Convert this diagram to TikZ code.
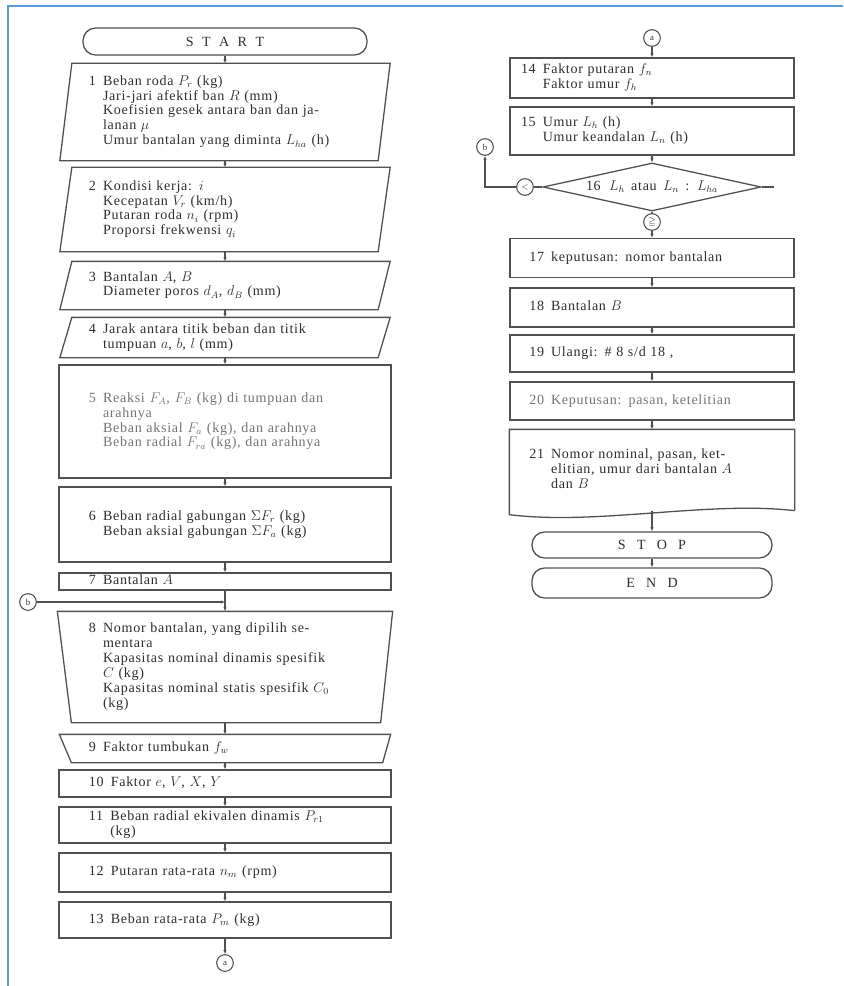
\documentclass[tikz,border=0pt]{standalone}
\usepackage{amsmath,amssymb}
\usepackage{fontspec}
\setmainfont{Liberation Serif}[LetterSpace=5]
\usepackage{xcolor}
\usetikzlibrary{shapes.geometric,arrows.meta}

\definecolor{ink}{RGB}{45,45,45}
\definecolor{rule}{RGB}{80,80,80}
\definecolor{faint}{RGB}{115,115,115}
\definecolor{frameblue}{RGB}{91,155,213}

\begin{document}
\begin{tikzpicture}[x=0.03cm, y=-0.03cm,
    every node/.style={font=\fontsize{12}{12.8}\selectfont\spaceskip.45em\relax, text=ink},
    box/.style={draw=rule, line width=1.1pt, minimum width=9.96cm, text width=8.16cm, align=left, inner sep=0pt},
    ghost/.style={box, draw=none},
    rbox/.style={box, minimum width=8.52cm, text width=7.86cm},
    outline/.style={draw=rule, line width=1.1pt},
    term/.style={draw=rule, line width=1.1pt, rounded corners=0.38cm, minimum height=0.81cm, inner sep=0pt},
    conn/.style={draw=rule, line width=0.9pt, circle, minimum size=0.5cm, inner sep=0pt, font=\fontsize{7.5}{8}\selectfont},
    flow/.style={draw=rule, line width=1.1pt, -{Latex[length=3.5pt,width=3pt]}},
    link/.style={draw=rule, line width=1.1pt}
]
\useasboundingbox (0,0) rectangle (843,986);
\draw[frameblue, line width=1.6pt] (8,986) -- (8,6) -- (843,6);

% left column
\node[term, minimum width=8.52cm] (start) at (225,41.5) {S\hspace{.6em}T\hspace{.6em}A\hspace{.6em}R\hspace{.6em}T};
\node[ghost, minimum width=9.51cm, minimum height=2.88cm] (in1) at (225,112) {\begin{tabular}{@{}l@{\hspace{.5em}}l@{}}
1 & Beban roda $P_r$ (kg)\\
  & Jari-jari afektif ban $R$ (mm)\\
  & Koefisien gesek antara ban dan ja-\\
  & lanan $\mu$\\
  & Umur bantalan yang diminta $L_{ha}$ (h)\end{tabular}};
\node[ghost, minimum width=9.51cm, minimum height=2.49cm] (in2) at (225,209.5) {\begin{tabular}{@{}l@{\hspace{.5em}}l@{}}
2 & Kondisi kerja: $i$\\
  & Kecepatan $V_r$ (km/h)\\
  & Putaran roda $n_i$ (rpm)\\
  & Proporsi frekwensi $q_i$\end{tabular}};
\node[ghost, minimum width=9.51cm, minimum height=1.41cm] (in3) at (225,285.5) {\begin{tabular}{@{}l@{\hspace{.5em}}l@{}}
3 & Bantalan $A$, $B$\\
  & Diameter poros $d_A$, $d_B$ (mm)\end{tabular}};
\node[ghost, minimum width=9.51cm, minimum height=1.17cm] (in4) at (225,337.5) {\begin{tabular}{@{}l@{\hspace{.5em}}l@{}}
4 & Jarak antara titik beban dan titik\\
  & tumpuan $a$, $b$, $l$ (mm)\end{tabular}};
\node[box, minimum height=3.39cm, text=faint] (pr5) at (225,421.5) {\begin{tabular}{@{}l@{\hspace{.5em}}l@{}}
5 & Reaksi $F_A$, $F_B$ (kg) di tumpuan dan\\
  & arahnya\\
  & Beban aksial $F_a$ (kg), dan arahnya\\
  & Beban radial $F_{ra}$ (kg), dan arahnya\end{tabular}};
\node[box, minimum height=2.25cm] (pr6) at (225,524.5) {\begin{tabular}{@{}l@{\hspace{.5em}}l@{}}
6 & Beban radial gabungan $\Sigma F_r$ (kg)\\
  & Beban aksial gabungan $\Sigma F_a$ (kg)\end{tabular}};
\node[box, minimum height=0.51cm] (pr7) at (225,581.5) {\begin{tabular}{@{}l@{\hspace{.5em}}l@{}}
7 & Bantalan $A$\end{tabular}};
\node[ghost, minimum width=10.02cm, minimum height=3.3cm] (op8) at (225,667) {\begin{tabular}{@{}l@{\hspace{.5em}}l@{}}
8 & Nomor bantalan, yang dipilih se-\\
  & mentara\\
  & Kapasitas nominal dinamis spesifik\\
  & $C$ (kg)\\
  & Kapasitas nominal statis spesifik $C_0$\\
  & (kg)\end{tabular}};
\node[ghost, minimum width=9.9cm, minimum height=0.81cm] (op9) at (225,748.5) {\begin{tabular}{@{}l@{\hspace{.5em}}l@{}}
9 & Faktor tumbukan $f_w$\end{tabular}};
\node[box, minimum height=0.81cm] (pr10) at (225,783.5) {\begin{tabular}{@{}l@{\hspace{.5em}}l@{}}
10 & Faktor $e$, $V$, $X$, $Y$\end{tabular}};
\node[box, minimum height=1.08cm] (pr11) at (225,825) {\begin{tabular}{@{}l@{\hspace{.5em}}l@{}}
11 & Beban radial ekivalen dinamis $P_{r1}$\\
   & (kg)\end{tabular}};
\node[box, minimum height=1.17cm] (pr12) at (225,872.5) {\begin{tabular}{@{}l@{\hspace{.5em}}l@{}}
12 & Putaran rata-rata $n_m$ (rpm)\end{tabular}};
\node[box, minimum height=1.08cm] (pr13) at (225,920) {\begin{tabular}{@{}l@{\hspace{.5em}}l@{}}
13 & Beban rata-rata $P_m$ (kg)\end{tabular}};
\node[conn] (outa) at (225,963) {a};
\node[conn] (inb) at (28,602) {b};

% slanted and tapered outlines
\foreach \n in {in1,in2,in3,in4}
  \draw[outline] ([xshift=.18cm]\n.north west) -- ([xshift=.18cm]\n.north east) -- ([xshift=-.18cm]\n.south east) -- ([xshift=-.18cm]\n.south west) -- cycle;
\draw[outline] (op8.north west) -- (op8.north east) -- ([xshift=-.36cm]op8.south east) -- ([xshift=.42cm]op8.south west) -- cycle;
\draw[outline] (op9.north west) -- (op9.north east) -- ([xshift=-.24cm]op9.south east) -- ([xshift=.36cm]op9.south west) -- cycle;

\foreach \a/\b in {start/in1, in1/in2, in2/in3, in3/in4, in4/pr5, pr5/pr6, pr6/pr7, pr7/op8, op8/op9, op9/pr10, pr10/pr11, pr11/pr12, pr12/pr13, pr13/outa}
  \draw[flow] (\a) -- (\b);
\draw[flow] (inb) -- (inb -| op8.north);

% right column
\node[conn] (ina) at (652,38) {a};
\node[rbox, minimum height=1.2cm] (pr14) at (652,78) {\begin{tabular}{@{}l@{\hspace{.5em}}l@{}}
14 & Faktor putaran $f_n$\\
   & Faktor umur $f_h$\end{tabular}};
\node[rbox, minimum height=1.44cm] (pr15) at (652,131) {\begin{tabular}{@{}l@{\hspace{.5em}}l@{}}
15 & Umur $L_h$ (h)\\
   & Umur keandalan $L_n$ (h)\end{tabular}};
\node[draw=rule, line width=1.1pt, diamond, aspect=4.5, minimum width=6.54cm, minimum height=1.44cm, inner sep=0pt] (dec16) at (652,187) {16\hspace{.6em}$L_h$ atau $L_n$ : $L_{ha}$};
\node[conn] (lt) at (525,187) {$<$};
\node[conn] (bk) at (485,147) {b};
\node[conn] (ge) at (652,222) {$\geqq$};
\coordinate (tail) at (774,187);
\node[rbox, text width=7.36cm, minimum height=1.17cm] (pr17) at (652,258) {\begin{tabular}{@{}l@{\hspace{.5em}}l@{}}
17 & keputusan: nomor bantalan\end{tabular}};
\node[rbox, text width=7.36cm, minimum height=1.17cm] (pr18) at (652,307.5) {\begin{tabular}{@{}l@{\hspace{.5em}}l@{}}
18 & Bantalan $B$\end{tabular}};
\node[rbox, text width=7.36cm, minimum height=1.11cm] (pr19) at (652,353.5) {\begin{tabular}{@{}l@{\hspace{.5em}}l@{}}
19 & Ulangi: \# 8 s/d 18 ,\end{tabular}};
\node[rbox, text width=7.36cm, minimum height=1.14cm, text=faint] (pr20) at (652,401) {\begin{tabular}{@{}l@{\hspace{.5em}}l@{}}
20 & Keputusan: pasan, ketelitian\end{tabular}};
\node[rbox, draw=none, text width=7.36cm, minimum height=2.4cm] (doc21) at (652,470) {\begin{tabular}{@{}l@{\hspace{.5em}}l@{}}
21 & Nomor nominal, pasan, ket-\\
   & elitian, umur dari bantalan $A$\\
   & dan $B$\end{tabular}};
\draw[outline] (doc21.south east) -- (doc21.north east) -- (doc21.north west) -- ([yshift=-.12cm]doc21.south west)
  .. controls ([xshift=2.6cm,yshift=-.45cm]doc21.south west) and ([xshift=-2.6cm,yshift=.3cm]doc21.south east) .. (doc21.south east);
\node[term, minimum width=7.2cm, minimum height=0.78cm] (stop) at (652,545) {S\hspace{.8em}T\hspace{.8em}O\hspace{.8em}P};
\node[term, minimum width=7.2cm, minimum height=0.9cm] (fin) at (652,583) {E\hspace{.8em}N\hspace{.8em}D};

\foreach \a/\b in {ina/pr14, pr14/pr15, pr15/dec16, ge/pr17, pr17/pr18, pr18/pr19, pr19/pr20, pr20/doc21, stop/fin}
  \draw[flow] (\a) -- (\b);
\draw[flow] (doc21.south) -- (stop);
\draw[link] (dec16) -- (ge);
\draw[link] (dec16) -- (lt);
\draw[flow] (lt) -| (bk);
\draw[link] (dec16.east) -- (tail);
\end{tikzpicture}
\end{document}
